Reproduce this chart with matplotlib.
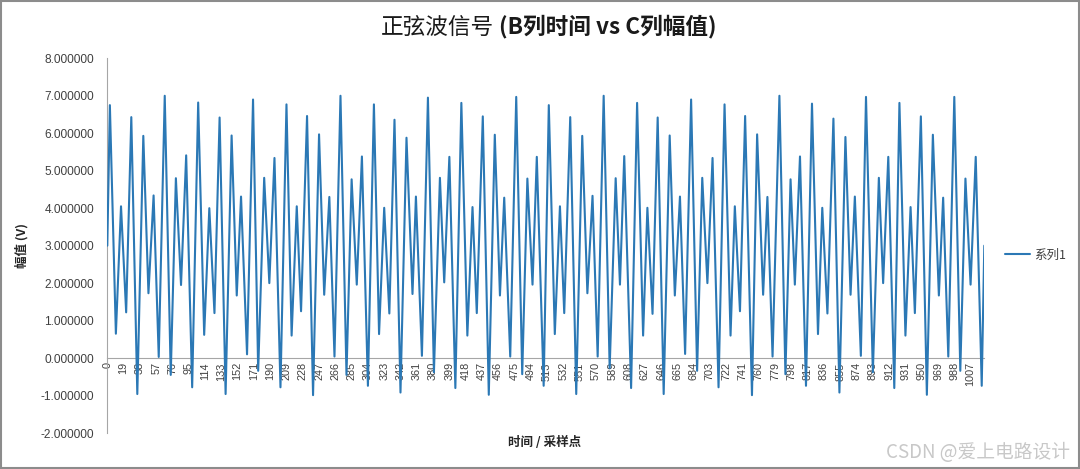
import matplotlib
matplotlib.use('Agg')
import matplotlib.pyplot as plt
from matplotlib.patches import Rectangle
from matplotlib.ticker import FormatStrFormatter

# Sample index and amplitude (V) of every turning point
sample_idx = [
    0, 3, 10, 16, 22, 28, 35, 42, 48, 54, 60, 67, 74, 80, 86, 92, 99,
    106, 113, 119, 125, 131, 138, 145, 151, 156, 163, 170, 176, 183, 189, 195, 202,
    209, 215, 221, 226, 233, 240, 247, 253, 259, 265, 272, 279, 285, 291, 297, 304,
    311, 317, 323, 329, 335, 342, 349, 356, 360, 367, 374, 381, 388, 393, 399, 406,
    413, 420, 426, 431, 438, 445, 452, 458, 463, 470, 477, 484, 490, 496, 501, 509,
    515, 522, 528, 533, 540, 547, 554, 560, 566, 572, 579, 586, 593, 598, 603, 611,
    618, 625, 630, 636, 642, 649, 656, 662, 668, 674, 681, 688, 694, 700, 706, 713,
    720, 727, 732, 738, 744, 752, 758, 765, 770, 776, 784, 791, 797, 802, 808, 815,
    822, 829, 834, 840, 847, 854, 861, 867, 872, 879, 885, 893, 900, 905, 911, 918,
    924, 931, 937, 942, 949, 956, 963, 970, 975, 981, 988, 995, 1001, 1007, 1013, 1020,
    1023,
]
amplitude = [
    3.00, 6.75, 0.65, 4.05, 1.22, 6.43, -0.96, 5.93, 1.73, 4.34, 0.03, 7.00, -0.45, 4.80, 1.95, 5.41, -0.78,
    6.82, 0.62, 4.00, 1.20, 6.42, -0.96, 5.94, 1.67, 4.31, 0.10, 6.90, -0.34, 4.81, 2.00, 5.34, -0.78,
    6.77, 0.60, 4.05, 1.25, 6.46, -0.99, 5.97, 1.69, 4.30, 0.04, 7.00, -0.45, 4.77, 1.96, 5.38, -0.74,
    6.77, 0.64, 4.01, 1.19, 6.36, -0.92, 5.88, 1.71, 4.31, 0.06, 6.95, -0.38, 4.81, 2.02, 5.37, -0.80,
    6.81, 0.60, 4.03, 1.20, 6.45, -0.98, 5.96, 1.67, 4.28, 0.04, 6.97, -0.43, 4.79, 1.96, 5.37, -0.74,
    6.75, 0.64, 4.05, 1.20, 6.43, -0.96, 5.93, 1.73, 4.33, 0.04, 7.00, -0.27, 4.80, 1.96, 5.39, -0.80,
    6.81, 0.60, 4.01, 1.18, 6.42, -0.96, 5.94, 1.67, 4.31, 0.11, 6.90, -0.34, 4.81, 2.00, 5.34, -0.78,
    6.77, 0.60, 4.05, 1.25, 6.46, -0.99, 5.97, 1.69, 4.30, 0.04, 7.00, -0.43, 4.77, 1.96, 5.38, -0.74,
    6.79, 0.64, 4.01, 1.19, 6.39, -0.92, 5.90, 1.69, 4.31, 0.06, 6.97, -0.38, 4.81, 2.00, 5.37, -0.80,
    6.81, 0.60, 4.03, 1.20, 6.45, -0.98, 5.96, 1.67, 4.28, 0.04, 6.97, -0.34, 4.79, 1.96, 5.37, -0.74,
    3.00,
]

x_ticks = list(range(0, 1024, 19))
y_ticks = [-2, -1, 0, 1, 2, 3, 4, 5, 6, 7, 8]

W, H = 1080, 469
fig = plt.figure(figsize=(W / 100, H / 100), dpi=100)

# plot area placed to match the reference pixel box
left, right, top, bottom = 107.3, 984.3, 58.3, 433.0
ax = fig.add_axes([left / W, 1 - bottom / H, (right - left) / W, (bottom - top) / H])

ax.plot(sample_idx, amplitude, color='#2b78b5', linewidth=1.5,
        solid_joinstyle='round', solid_capstyle='round', label='系列1', zorder=3)

ax.set_xlim(0, 1023)
ax.set_ylim(-2, 8)
ax.set_xticks(x_ticks)
ax.set_yticks(y_ticks)
ax.yaxis.set_major_formatter(FormatStrFormatter('%.6f'))

# axes like Excel: x axis crosses at 0, no ticks, no grid
for side in ['top', 'right']:
    ax.spines[side].set_visible(False)
ax.spines['left'].set_color('#a6a6a6')
ax.spines['bottom'].set_color('#a6a6a6')
ax.spines['bottom'].set_position(('data', 0))
ax.spines['bottom'].set_zorder(2)

ax.tick_params(axis='y', length=0, pad=9.5, labelsize=8.6, labelcolor='#404040')
ax.tick_params(axis='x', length=0, pad=3, labelsize=7.8, labelcolor='#404040', labelrotation=90)
for lbl in ax.get_xticklabels() + ax.get_yticklabels():
    lbl.set_family('Liberation Sans')

# title: normal + bold parts
fig.text(494 / W, 1 - 27 / H, '正弦波信号', ha='right', va='center',
         fontsize=16.3, family='Noto Sans CJK SC', color='#1a1a1a')
fig.text(499 / W, 1 - 27 / H, '(B列时间 vs C列幅值)', ha='left', va='center',
         fontsize=16.3, family='Noto Sans CJK SC', weight='bold', color='#1a1a1a')

fig.text(22 / W, 1 - 245 / H, '幅值 (V)', rotation=90, ha='center', va='center',
         fontsize=9, family='Noto Sans CJK SC', weight='bold', color='#262626')
fig.text(545 / W, 1 - 442 / H, '时间 / 采样点', ha='center', va='center',
         fontsize=9, family='Noto Sans CJK SC', weight='bold', color='#262626')

leg = ax.legend(loc='center left', bbox_to_anchor=(999 / W, 1 - 255 / H),
                bbox_transform=fig.transFigure, frameon=False, borderpad=0,
                handlelength=2.0, handletextpad=0.3,
                prop={'family': 'Noto Sans CJK SC', 'size': 9})
for t in leg.get_texts():
    t.set_color('#404040')

# watermark
fig.text(1070 / W, 1 - 452 / H, 'CSDN @爱上电路设计', ha='right', va='center',
         fontsize=13.5, family='Noto Sans CJK SC', color='#c8c8c8')

# chart border
fig.add_artist(Rectangle((0.001, 0.002), 0.998, 0.996, transform=fig.transFigure,
                         fill=False, edgecolor='#8c8c8c', linewidth=1.5))

fig.savefig('out.png', dpi=100)
